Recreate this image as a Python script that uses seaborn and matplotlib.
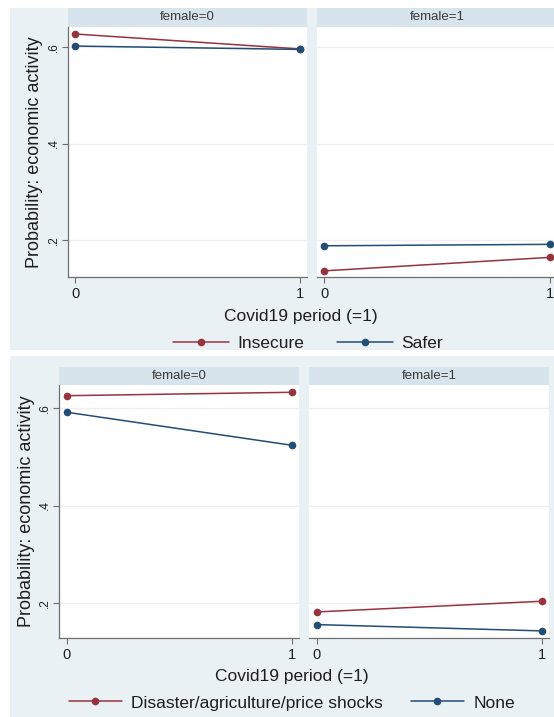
import matplotlib
matplotlib.use("Agg")
import matplotlib.pyplot as plt
from matplotlib.patches import Rectangle
import pandas as pd
import seaborn as sns

# Predicted probabilities of economic activity, by Covid19 period and sex
periods = [0, 1]
female_levels = [0, 1]

# Panel A: food security status
security_groups = ["Insecure", "Safer"]
insecure_f0 = [0.627, 0.596]
safer_f0 = [0.602, 0.595]
insecure_f1 = [0.136, 0.164]
safer_f1 = [0.188, 0.191]

# Panel B: shocks experienced
shock_groups = ["Disaster/agriculture/price shocks", "None"]
disaster_f0 = [0.626, 0.633]
none_f0 = [0.592, 0.524]
disaster_f1 = [0.181, 0.203]
none_f1 = [0.155, 0.142]

y_ticks = [0.2, 0.4, 0.6]
y_tick_labels = [".2", ".4", ".6"]
x_label = "Covid19 period (=1)"
y_label = "Probability: economic activity"


def long_frame(groups, series_f0, series_f1):
    rows = []
    for fem, series in zip(female_levels, (series_f0, series_f1)):
        for grp, vals in zip(groups, series):
            for p, v in zip(periods, vals):
                rows.append({"female": fem, "covid": p, "group": grp, "prob": v})
    return pd.DataFrame(rows)


df_a = long_frame(security_groups, [insecure_f0, safer_f0], [insecure_f1, safer_f1])
df_b = long_frame(shock_groups, [disaster_f0, none_f0], [disaster_f1, none_f1])

sns.set_theme(style="white")
plt.rcParams["font.family"] = ["Liberation Sans", "DejaVu Sans"]

W, H = 554, 717
fig = plt.figure(figsize=(W / 100, H / 100), dpi=100)
fig.patch.set_facecolor("white")

BG = "#eaf1f4"
STRIP = "#d8e4eb"
RED = "#97333f"
BLUE = "#224d74"
TXT = "#1e1e1e"


def frect(l, t, r, b):
    return [l / W, 1 - b / H, (r - l) / W, (b - t) / H]


def add_box(l, t, r, b, color):
    fig.patches.append(Rectangle((l / W, 1 - b / H), (r - l) / W, (b - t) / H,
                                 transform=fig.transFigure, facecolor=color,
                                 edgecolor="none", zorder=-5))


def draw_chart(df, groups, bg, facets, strip_top, plot_top, plot_bottom,
               ylim, xlim, ylab_x, xlab_y, xlab_x, leg_y, leg_x, leg_kw):
    add_box(*bg, BG)
    palette = dict(zip(groups, [RED, BLUE]))
    handles = labels = None
    for i, ((l, r), fem) in enumerate(zip(facets, female_levels)):
        add_box(l, strip_top, r, plot_top, STRIP)
        fig.text((l + r) / 2 / W, 1 - (strip_top + plot_top) / 2 / H,
                 f"female={fem}", ha="center", va="center", fontsize=9.5,
                 color="#3a3a3a")
        ax = fig.add_axes(frect(l, plot_top, r, plot_bottom))
        ax.set_facecolor("white")
        sub = df[df["female"] == fem]
        sns.lineplot(data=sub, x="covid", y="prob", hue="group",
                     hue_order=groups, palette=palette, marker="o",
                     markersize=5.5, markeredgewidth=0, linewidth=1.1,
                     ax=ax, legend=(i == 0))
        if i == 0:
            handles, labels = ax.get_legend_handles_labels()
            ax.get_legend().remove()
        ax.set_xlim(*xlim)
        ax.set_ylim(*ylim)
        ax.set_xticks(periods)
        ax.set_xticklabels([str(p) for p in periods], fontsize=10.5, color=TXT)
        ax.set_yticks(y_ticks)
        for y in y_ticks:
            ax.axhline(y, color="#efefef", linewidth=0.9, zorder=0)
        ax.set_xlabel("")
        ax.set_ylabel("")
        for s in ("top", "right"):
            ax.spines[s].set_visible(False)
        ax.spines["bottom"].set_color("#6f6f6f")
        ax.spines["bottom"].set_linewidth(0.9)
        ax.tick_params(axis="x", length=4, width=0.8, color="#6f6f6f",
                       pad=3, bottom=True)
        if i == 0:
            ax.spines["left"].set_color("#6f6f6f")
            ax.spines["left"].set_linewidth(0.9)
            ax.set_yticklabels(y_tick_labels, fontsize=8.5, color=TXT,
                               rotation=90, va="center")
            ax.tick_params(axis="y", length=4, width=0.8, color="#6f6f6f",
                           pad=2, left=True)
        else:
            ax.spines["left"].set_visible(False)
            ax.set_yticklabels([])
            ax.tick_params(axis="y", length=0, left=False)
    fig.text(ylab_x / W, 1 - (plot_top + plot_bottom) / 2 / H, y_label,
             rotation=90, ha="center", va="center", fontsize=13, color=TXT)
    fig.text(xlab_x / W, 1 - xlab_y / H, x_label, ha="center", va="center",
             fontsize=12.5, color=TXT)
    fig.legend(handles, labels, loc="center", bbox_to_anchor=(leg_x / W, 1 - leg_y / H),
               ncol=2, frameon=False, fontsize=12.5, labelcolor=TXT, **leg_kw)


draw_chart(df_a, security_groups, bg=(10, 8, 554, 350),
           facets=[(68, 307), (317, 557)], strip_top=8, plot_top=27,
           plot_bottom=277, ylim=(0.1233, 0.6415), xlim=(-0.032, 1.032),
           ylab_x=35, xlab_y=317, xlab_x=301, leg_y=343, leg_x=308,
           leg_kw=dict(handlelength=3.2, handletextpad=0.5, columnspacing=1.9))

draw_chart(df_b, shock_groups, bg=(10, 356, 554, 717),
           facets=[(59, 299), (309, 549)], strip_top=367, plot_top=385,
           plot_bottom=638, ylim=(0.1274, 0.648), xlim=(-0.034, 1.032),
           ylab_x=27, xlab_y=677, xlab_x=292, leg_y=703, leg_x=292,
           leg_kw=dict(handlelength=3.05, handletextpad=0.57, columnspacing=1.6))

fig.savefig("out.png", dpi=100)
